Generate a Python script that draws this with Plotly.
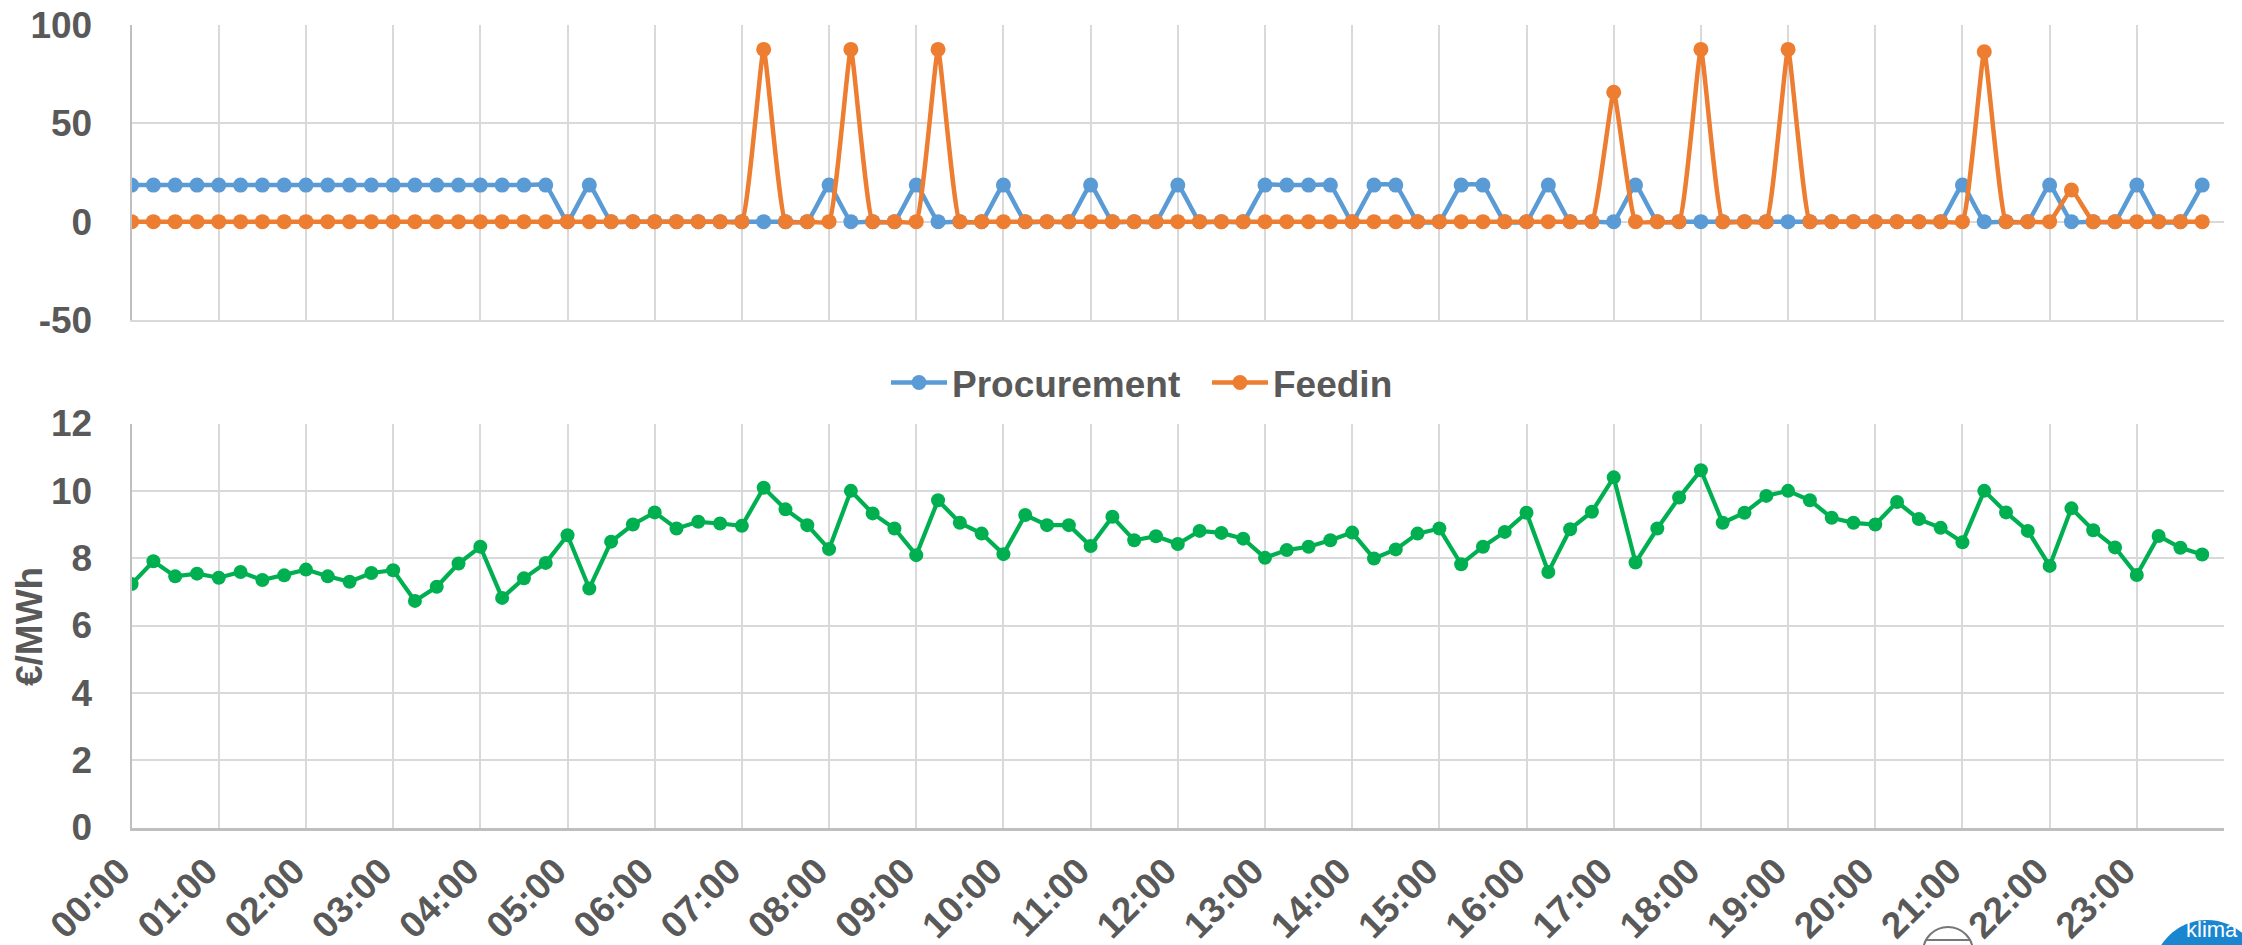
import plotly.graph_objects as go

# Quarter-hour slots of the day, expressed in hours
slot_hours = [i / 4 for i in range(96)]

hour_labels = [
    "00:00", "01:00", "02:00", "03:00", "04:00", "05:00", "06:00", "07:00",
    "08:00", "09:00", "10:00", "11:00", "12:00", "13:00", "14:00", "15:00",
    "16:00", "17:00", "18:00", "19:00", "20:00", "21:00", "22:00", "23:00",
]

power_ticks = [-50, 0, 50, 100]
power_tick_labels = ["-50", "0", "50", "100"]
price_ticks = [0, 2, 4, 6, 8, 10, 12]

# Grid exchange per quarter hour
procurement = [
    18.6, 18.6, 18.6, 18.6, 18.6, 18.6, 18.6, 18.6,   # 00:00-01:45
    18.6, 18.6, 18.6, 18.6, 18.6, 18.6, 18.6, 18.6,   # 02:00-03:45
    18.6, 18.6, 18.6, 18.6, 0, 18.6, 0, 0,            # 04:00-05:45
    0, 0, 0, 0, 0, 0, 0, 0,                           # 06:00-07:45
    18.6, 0, 0, 0, 18.6, 0, 0, 0,                     # 08:00-09:45
    18.6, 0, 0, 0, 18.6, 0, 0, 0,                     # 10:00-11:45
    18.6, 0, 0, 0, 18.6, 18.6, 18.6, 18.6,            # 12:00-13:45
    0, 18.6, 18.6, 0, 0, 18.6, 18.6, 0,               # 14:00-15:45
    0, 18.6, 0, 0, 0, 18.6, 0, 0,                     # 16:00-17:45
    0, 0, 0, 0, 0, 0, 0, 0,                           # 18:00-19:45
    0, 0, 0, 0, 18.6, 0, 0, 0,                        # 20:00-21:45
    18.6, 0, 0, 0, 18.6, 0, 0, 18.6,                  # 22:00-23:45
]

feedin = [
    0, 0, 0, 0, 0, 0, 0, 0,
    0, 0, 0, 0, 0, 0, 0, 0,
    0, 0, 0, 0, 0, 0, 0, 0,
    0, 0, 0, 0, 0, 87.6, 0, 0,                        # 07:15 peak
    0, 87.6, 0, 0, 0, 87.6, 0, 0,                     # 08:15, 09:15 peaks
    0, 0, 0, 0, 0, 0, 0, 0,
    0, 0, 0, 0, 0, 0, 0, 0,
    0, 0, 0, 0, 0, 0, 0, 0,
    0, 0, 0, 0, 65.8, 0, 0, 0,                        # 17:00 peak
    87.6, 0, 0, 0, 87.6, 0, 0, 0,                     # 18:00, 19:00 peaks
    0, 0, 0, 0, 0, 86.4, 0, 0,                        # 21:15 peak
    0, 16.1, 0, 0, 0, 0, 0, 0,                        # 22:15 small peak
]

# Price in EUR/MWh per quarter hour
price = [
    7.23, 7.91, 7.46, 7.54, 7.42, 7.59, 7.35, 7.49,
    7.66, 7.46, 7.30, 7.56, 7.64, 6.73, 7.15, 7.84,
    8.34, 6.82, 7.40, 7.86, 8.68, 7.10, 8.49, 9.00,
    9.36, 8.88, 9.08, 9.03, 8.96, 10.09, 9.45, 8.98,
    8.27, 10.00, 9.33, 8.88, 8.09, 9.72, 9.05, 8.73,
    8.12, 9.28, 8.98, 8.98, 8.36, 9.23, 8.53, 8.65,
    8.42, 8.81, 8.75, 8.58, 8.01, 8.24, 8.34, 8.53,
    8.76, 7.99, 8.26, 8.73, 8.88, 7.82, 8.34, 8.78,
    9.35, 7.59, 8.86, 9.38, 10.40, 7.87, 8.88, 9.80,
    10.61, 9.05, 9.35, 9.85, 10.00, 9.72, 9.20, 9.05,
    9.00, 9.67, 9.16, 8.90, 8.47, 10.00, 9.36, 8.81,
    7.77, 9.48, 8.83, 8.32, 7.50, 8.66, 8.31, 8.11,
]

W, H = 2242, 945
TEXT = "#595959"
GRID = "#d9d9d9"
AXIS = "#bfbfbf"
FONT = "Liberation Sans, Arial, sans-serif"

x_dom = [131.6 / W, 2224 / W]
top_dom = [1 - 320 / H, 1 - 25 / H]
bot_dom = [1 - 827.5 / H, 1 - 423.5 / H]

fig = go.Figure()

fig.add_trace(go.Scatter(
    x=slot_hours, y=procurement, name="Procurement", mode="lines+markers",
    line=dict(color="#5B9BD5", width=4.5, shape="spline", smoothing=0.35),
    marker=dict(size=15, color="#5B9BD5"),
    xaxis="x", yaxis="y",
))
fig.add_trace(go.Scatter(
    x=slot_hours, y=feedin, name="Feedin", mode="lines+markers",
    line=dict(color="#ED7D31", width=4.5, shape="spline", smoothing=0.35),
    marker=dict(size=15, color="#ED7D31"),
    xaxis="x", yaxis="y",
))
fig.add_trace(go.Scatter(
    x=slot_hours, y=price, name="Price", mode="lines+markers", showlegend=False,
    line=dict(color="#00B050", width=4.2),
    marker=dict(size=14, color="#00B050"),
    xaxis="x2", yaxis="y2",
))

tick_font = dict(family=FONT, size=37, color=TEXT, weight="bold")

common_x = dict(
    range=[0, 24], tickvals=list(range(24)), ticktext=hour_labels,
    showgrid=True, gridcolor=GRID, gridwidth=2, zeroline=False,
    ticks="", automargin=False, domain=x_dom, tickfont=tick_font,
)

fig.update_layout(
    width=W, height=H,
    margin=dict(l=0, r=0, t=0, b=0),
    paper_bgcolor="white", plot_bgcolor="white",
    template="none",
    font=dict(family=FONT, color=TEXT),
    xaxis=dict(common_x, anchor="y", showticklabels=False,
               showline=True, linecolor=GRID, linewidth=2),
    yaxis=dict(domain=top_dom, range=[-50, 100], tickvals=power_ticks,
               ticktext=power_tick_labels,
               showgrid=True, gridcolor=GRID, gridwidth=2, zeroline=False,
               showline=True, linecolor=AXIS, linewidth=2,
               ticks="", ticklabelstandoff=30, tickfont=tick_font,
               automargin=False, anchor="x"),
    xaxis2=dict(common_x, anchor="y2", showticklabels=True, tickangle=-45,
                ticklabelshift=-12, ticklabelstandoff=4,
                showline=True, linecolor=AXIS, linewidth=3),
    yaxis2=dict(domain=bot_dom, range=[0, 12], tickvals=price_ticks,
                showgrid=True, gridcolor=GRID, gridwidth=2, zeroline=False,
                showline=True, linecolor=AXIS, linewidth=2,
                ticks="", ticklabelstandoff=30, tickfont=tick_font,
                automargin=False, anchor="x2"),
    legend=dict(
        orientation="h", x=886 / W, xanchor="left", y=1 - 383 / H, yanchor="middle",
        font=dict(family=FONT, size=37, color=TEXT, weight="bold"),
        bgcolor="rgba(0,0,0,0)", itemwidth=56, traceorder="normal",
        entrywidth=250, entrywidthmode="pixels",
    ),
    annotations=[
        dict(text="€/MWh", x=29 / W, y=1 - 627 / H, xref="paper", yref="paper",
             textangle=-90, showarrow=False, xanchor="center", yanchor="middle",
             font=dict(family=FONT, size=37, color=TEXT, weight="bold")),
        dict(text="klima", x=2212 / W, y=1 - 944 / H, xref="paper", yref="paper",
             showarrow=False, xanchor="center", yanchor="bottom",
             font=dict(family=FONT, size=22, color="white")),
    ],
    shapes=[
        dict(type="circle", xref="paper", yref="paper",
             x0=2152 / W, x1=2262 / W, y0=1 - 1032 / H, y1=1 - 920 / H,
             fillcolor="#1a86d0", line=dict(width=0), layer="below"),
        dict(type="circle", xref="paper", yref="paper",
             x0=1923 / W, x1=1973 / W, y0=1 - 977 / H, y1=1 - 927 / H,
             fillcolor="white", line=dict(color="#777777", width=2)),
        dict(type="line", xref="paper", yref="paper",
             x0=1925 / W, x1=1971 / W, y0=1 - 940 / H, y1=1 - 940 / H,
             line=dict(color="#777777", width=2)),
    ],
)

fig.write_html("out.html")
